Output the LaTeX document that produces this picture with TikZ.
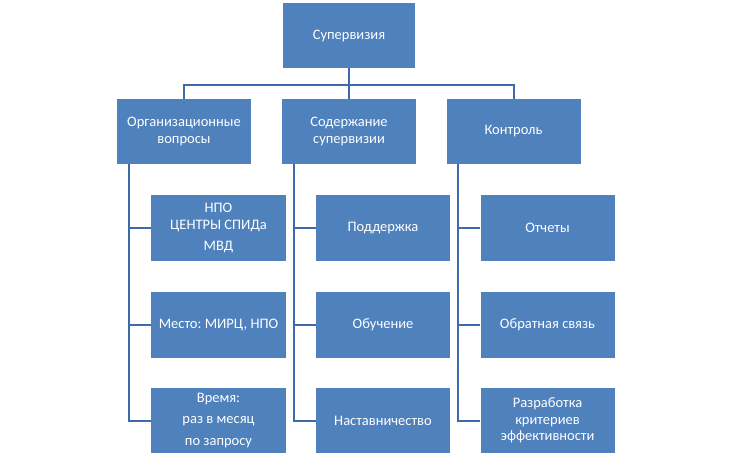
\documentclass[tikz,border=0pt]{standalone}
\usepackage{fontspec}
\setmainfont{Carlito}
\definecolor{boxblue}{HTML}{4F81BD}
\definecolor{lineblue}{HTML}{3D6AA8}
\begin{document}
\frenchspacing
\begin{tikzpicture}[x=1pt,y=-1pt,
  box/.style={draw=none,fill=boxblue,text=white,align=center,inner sep=0pt,
    minimum width=134pt,minimum height=65pt,font=\fontsize{14.5}{16.5}\selectfont},
  conn/.style={draw=lineblue,line width=2pt}]
\useasboundingbox (0,0) rectangle (732,458);
\node[box,minimum width=132pt] (sup) at (349,35.5) {Супервизия};
\node[box] (org) at (184,131.5) {Организационные\\вопросы};
\node[box] (sod) at (349,131.5) {Содержание\\супервизии};
\node[box] (kon) at (513.5,131.5) {Контроль};
\node[box,minimum width=135pt,minimum height=66pt] (npo) at (218.5,228) {НПО\\ЦЕНТРЫ СПИДа\\[5pt]МВД};
\node[box,minimum width=135pt,minimum height=66pt] (mes) at (218.5,325) {Место: МИРЦ, НПО};
\node[box,minimum width=135pt] (vre) at (218.5,420.5) {Время:\\[5pt]раз в месяц\\[5pt]по запросу};
\node[box,minimum height=66pt] (pod) at (383,228) {Поддержка};
\node[box,minimum height=66pt] (obu) at (383,325) {Обучение};
\node[box] (nas) at (383,420.5) {Наставничество};
\node[box,minimum height=66pt] (otc) at (547.5,228) {Отчеты};
\node[box,minimum height=66pt] (obr) at (547.5,325) {Обратная связь};
\node[box] (raz) at (547.5,420.5) {Разработка\\критериев\\эффективности};
\coordinate (bus) at ([yshift=-17pt]sup.south);
\draw[conn] (sup.south) -- (bus);
\draw[conn] (bus) -| (org.north);
\draw[conn] (bus) -- (sod.north);
\draw[conn] (bus) -| (kon.north);
\coordinate (o1) at ([xshift=12pt]org.south west);
\coordinate (s1) at ([xshift=12pt]sod.south west);
\coordinate (k1) at ([xshift=12pt]kon.south west);
\draw[conn] (o1) |- (npo.west);
\draw[conn] (o1) |- (mes.west);
\draw[conn] (o1) |- (vre.west);
\draw[conn] (s1) |- (pod.west);
\draw[conn] (s1) |- (obu.west);
\draw[conn] (s1) |- (nas.west);
\draw[conn] (k1) |- (otc.west);
\draw[conn] (k1) |- (obr.west);
\draw[conn] (k1) |- (raz.west);
\end{tikzpicture}
\end{document}
